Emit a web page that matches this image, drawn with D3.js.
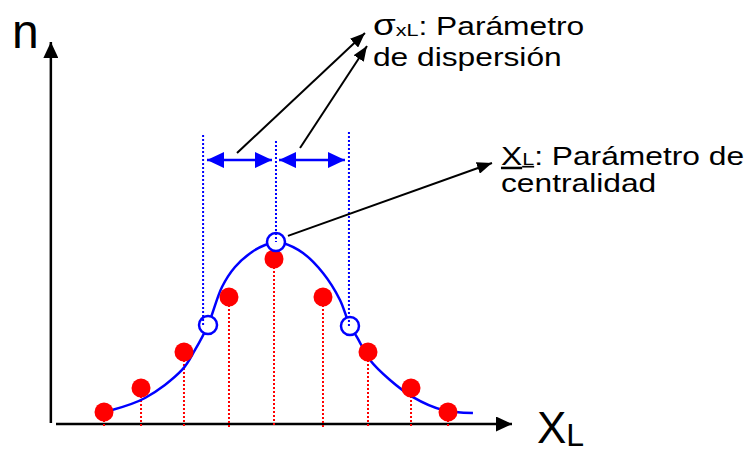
<!DOCTYPE html>
<html>
<head>
<meta charset="utf-8">
<script src="https://cdn.jsdelivr.net/npm/d3@7"></script>
<style>
  html, body { margin: 0; padding: 0; background: #fff; }
  #dataViz { width: 752px; height: 454px; }
  text { font-family: "Liberation Sans", Arial, sans-serif; fill: #000; }
</style>
</head>
<body>
<div id="dataViz"></div>
<script>
// Observed values (red points): x in sigma units, n relative to the peak
const obsX = [-2.347, -1.844, -1.26, -0.648, -0.036, 0.63, 1.242, 1.827, 2.33];
const obsN = [0.066, 0.198, 0.396, 0.698, 0.907, 0.698, 0.396, 0.198, 0.066];

// Fitted curve
const curveX = [-2.238, -1.79, -1.287, -1.11, -0.933, -0.743, -0.566, -0.335, -0.158, -0.009,
  0.086, 0.358, 0.63, 0.861, 0.997, 1.092, 1.269, 1.541, 1.853, 2.261, 2.669];
const curveN = [0.077, 0.143, 0.297, 0.407, 0.544, 0.753, 0.863, 0.946, 0.984, 1.0,
  0.995, 0.94, 0.83, 0.682, 0.539, 0.478, 0.352, 0.242, 0.148, 0.077, 0.06];

// Open circles: mean and mean +/- sigma
const markX = [-0.933, -0.009, 0.997];
const markN = [0.544, 1.0, 0.539];

// Dotted guide lines (x, top)
const guideX = [-1.0, -0.009, 0.983];
const guideTop = [1.589, 1.556, 1.605];

// Sigma double arrows [x0, x1] at height sigmaY
const sigmaSpans = [[-0.947, -0.063], [0.032, 0.929]];
const sigmaY = 1.451;

// Annotation pointers [x0, y0, x1, y1]
const pointers = [
  [-0.539, 1.49, 1.201, 2.15],
  [0.318, 1.517, 1.228, 2.078],
  [0.154, 1.034, 2.928, 1.435]
];

const width = 752;
const height = 454;

const colours = {
  obs: "#ff0000",
  fit: "#0000ff",
  axis: "#000000"
};

const xScale = d3.scaleLinear().domain([-3, 3.2]).range([56, 512]);
const yScale = d3.scaleLinear().domain([0, 2.1]).range([424, 42]);

const svg = d3.select("#dataViz").append("svg")
  .attr("width", width)
  .attr("height", height)
  .attr("viewBox", [0, 0, width, height]);

// Arrowhead markers
const defs = svg.append("defs");
function marker(id, colour, len, w) {
  defs.append("marker")
    .attr("id", id)
    .attr("viewBox", `0 0 ${len} ${w}`)
    .attr("refX", len)
    .attr("refY", w / 2)
    .attr("markerUnits", "userSpaceOnUse")
    .attr("markerWidth", len)
    .attr("markerHeight", w)
    .attr("orient", "auto-start-reverse")
    .append("path")
    .attr("d", `M0,0L${len},${w / 2}L0,${w}Z`)
    .attr("fill", colour);
}
marker("axisHead", colours.axis, 16, 15);
marker("blueHead", colours.fit, 17, 16);
marker("blackHead", colours.axis, 15, 12);

// Axes
svg.append("line")
  .attr("x1", xScale(-3.07)).attr("x2", xScale(-3.07))
  .attr("y1", yScale(0) - 1).attr("y2", yScale(2.1))
  .attr("stroke", colours.axis).attr("stroke-width", 2.5)
  .attr("marker-end", "url(#axisHead)");

svg.append("line")
  .attr("x1", xScale(-3)).attr("x2", xScale(3.2))
  .attr("y1", yScale(0)).attr("y2", yScale(0))
  .attr("stroke", colours.axis).attr("stroke-width", 2.5)
  .attr("marker-end", "url(#axisHead)");

// Red dotted drop lines
svg.selectAll(".drop")
  .data(obsX)
  .enter()
  .append("line")
  .attr("class", "drop")
  .attr("x1", d => xScale(d)).attr("x2", d => xScale(d))
  .attr("y1", (d, i) => yScale(obsN[i]))
  .attr("y2", yScale(0) + 3)
  .attr("stroke", colours.obs)
  .attr("stroke-width", 2)
  .attr("stroke-dasharray", "2,2");

// Fitted curve
const line = d3.line()
  .x((d, i) => xScale(d))
  .y((d, i) => yScale(curveN[i]))
  .curve(d3.curveCatmullRom);

svg.append("path")
  .datum(curveX)
  .attr("fill", "none")
  .attr("stroke", colours.fit)
  .attr("stroke-width", 2.5)
  .attr("d", line);

// Observed points
svg.selectAll(".obs")
  .data(obsX)
  .enter()
  .append("circle")
  .attr("class", "obs")
  .attr("cx", d => xScale(d))
  .attr("cy", (d, i) => yScale(obsN[i]))
  .attr("r", 9.5)
  .attr("fill", colours.obs);

// Open circles
svg.selectAll(".mark")
  .data(markX)
  .enter()
  .append("circle")
  .attr("class", "mark")
  .attr("cx", d => xScale(d))
  .attr("cy", (d, i) => yScale(markN[i]))
  .attr("r", 9)
  .attr("fill", "#fff")
  .attr("stroke", colours.fit)
  .attr("stroke-width", 2.5);

// Blue dotted guides
svg.selectAll(".guide")
  .data(guideX)
  .enter()
  .append("line")
  .attr("class", "guide")
  .attr("x1", d => xScale(d)).attr("x2", d => xScale(d))
  .attr("y1", (d, i) => yScale(guideTop[i]))
  .attr("y2", (d, i) => yScale(markN[i]))
  .attr("stroke", colours.fit)
  .attr("stroke-width", 2)
  .attr("stroke-dasharray", "2,2");

// Sigma double arrows
svg.selectAll(".span")
  .data(sigmaSpans)
  .enter()
  .append("line")
  .attr("class", "span")
  .attr("x1", d => xScale(d[0])).attr("x2", d => xScale(d[1]))
  .attr("y1", yScale(sigmaY)).attr("y2", yScale(sigmaY))
  .attr("stroke", colours.fit)
  .attr("stroke-width", 2.5)
  .attr("marker-start", "url(#blueHead)")
  .attr("marker-end", "url(#blueHead)");

// Pointer arrows
svg.selectAll(".pointer")
  .data(pointers)
  .enter()
  .append("line")
  .attr("class", "pointer")
  .attr("x1", d => xScale(d[0])).attr("y1", d => yScale(d[1]))
  .attr("x2", d => xScale(d[2])).attr("y2", d => yScale(d[3]))
  .attr("stroke", colours.axis)
  .attr("stroke-width", 2)
  .attr("marker-end", "url(#blackHead)");

// Axis labels
svg.append("text")
  .attr("x", xScale(-3.598)).attr("y", yScale(2.067))
  .style("font-size", "48px")
  .text("n");

const xl = svg.append("text")
  .attr("x", xScale(3.54)).attr("y", yScale(-0.104))
  .style("font-size", "44px");
xl.append("tspan").text("X");
xl.append("tspan").attr("dy", 3).style("font-size", "32px").text("L");

// Annotation: dispersion
const disp = svg.append("g")
  .attr("transform", `translate(${xScale(1.309)},${yScale(2.139)}) scale(1.27,1)`);
const d1 = disp.append("text").style("font-size", "25px");
d1.append("tspan").style("font-size", "29px").text("σ");
d1.append("tspan").attr("dy", 1).style("font-size", "17px").text("xL");
d1.append("tspan").attr("dy", -1).text(": Parámetro");
disp.append("text")
  .attr("y", yScale(1.968) - yScale(2.139))
  .style("font-size", "25px")
  .text("de dispersión");

// Annotation: centrality
const cent = svg.append("g")
  .attr("transform", `translate(${xScale(3.05)},${yScale(1.424)}) scale(1.27,1)`);
const c1 = cent.append("text").style("font-size", "25px");
c1.append("tspan").style("text-decoration", "underline").text("X");
c1.append("tspan").style("font-size", "17px").style("text-decoration", "underline").text("L");
c1.append("tspan").text(": Parámetro de");
cent.append("text")
  .attr("y", yScale(1.275) - yScale(1.424))
  .style("font-size", "25px")
  .text("centralidad");
</script>
</body>
</html>
